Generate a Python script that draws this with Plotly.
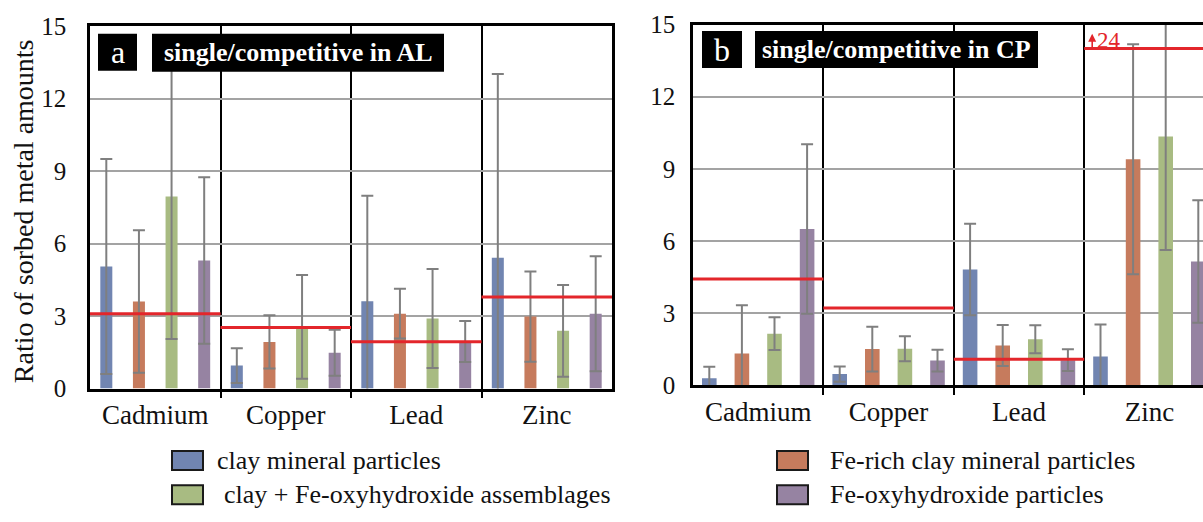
import plotly.graph_objects as go

# ---- data -----------------------------------------------------------------
categories = ["Cadmium", "Copper", "Lead", "Zinc"]
particle_types = [
    "clay mineral particles",
    "Fe-rich clay mineral particles",
    "clay + Fe-oxyhydroxide assemblages",
    "Fe-oxyhydroxide particles",
]
y_ticks = [0, 3, 6, 9, 12, 15]

# panel a: single/competitive ratios in AL
al_clay = [5.05, 0.95, 3.61, 5.42]
al_clay_err = [4.45, 0.72, 4.37, 7.6]
al_ferich = [3.6, 1.93, 3.1, 2.98]
al_ferich_err = [2.95, 1.1, 1.03, 1.87]
al_assemb = [7.95, 2.55, 2.9, 2.39]
al_assemb_err = [5.9, 2.15, 2.05, 1.9]
al_feoxy = [5.3, 1.48, 1.95, 3.1]
al_feoxy_err = [3.45, 0.95, 0.85, 2.38]
al_bulk = [3.1, 2.53, 1.94, 3.79]

# panel b: single/competitive ratios in CP
cp_clay = [0.3, 0.47, 4.82, 1.2]
cp_clay_err = [0.48, 0.32, 1.9, 1.33]
cp_ferich = [1.33, 1.51, 1.66, 9.4]
cp_ferich_err = [2.0, 0.93, 0.85, 4.78]
cp_assemb = [2.15, 1.52, 1.92, 10.35]
cp_assemb_err = [0.68, 0.52, 0.58, 4.72]
cp_feoxy = [6.5, 1.03, 1.05, 5.15]
cp_feoxy_err = [3.52, 0.45, 0.45, 2.55]
cp_bulk = [4.42, 3.22, 1.09, 24]

# ---- style ----------------------------------------------------------------
W, H = 1203, 522
FONT = "Liberation Serif"
bar_colors = ["#7185b1", "#c67b5d", "#a8bb82", "#9683a2"]
err_color = "#7f7f7f"
bulk_color = "#e3262b"
grid_color = "#a3a3a3"
OFF_SCALE = 14.0  # level at which off-scale reference lines are drawn


def px(x):
    return x / W


def py(y):
    return 1 - y / H


fig = go.Figure()

panels = [
    dict(xa="x", ya="y", bar_w=0.092,
         series=[(al_clay, al_clay_err), (al_ferich, al_ferich_err),
                 (al_assemb, al_assemb_err), (al_feoxy, al_feoxy_err)],
         bulk=al_bulk),
    dict(xa="x2", ya="y2", bar_w=0.112,
         series=[(cp_clay, cp_clay_err), (cp_ferich, cp_ferich_err),
                 (cp_assemb, cp_assemb_err), (cp_feoxy, cp_feoxy_err)],
         bulk=cp_bulk),
]

for p in panels:
    for k, (vals, errs) in enumerate(p["series"]):
        xs = [g + (k - 1.5) * 0.25 for g in range(len(categories))]
        fig.add_trace(go.Bar(
            x=xs, y=vals, width=p["bar_w"], name=particle_types[k],
            marker=dict(color=bar_colors[k], line=dict(width=0)),
            error_y=dict(type="data", array=errs, color=err_color,
                         thickness=2, width=6),
            xaxis=p["xa"], yaxis=p["ya"], showlegend=False,
        ))
    lx, ly = [], []
    for g, v in enumerate(p["bulk"]):
        yv = min(v, OFF_SCALE)
        lx += [g - 0.5, g + 0.5, None]
        ly += [yv, yv, None]
    fig.add_trace(go.Scatter(
        x=lx, y=ly, mode="lines", line=dict(color=bulk_color, width=3),
        xaxis=p["xa"], yaxis=p["ya"], showlegend=False, hoverinfo="skip",
    ))

# ---- axes -----------------------------------------------------------------
unit_b = 130.4
common_x = dict(
    tickmode="array", tickvals=list(range(len(categories))), ticktext=categories,
    ticks="", showgrid=False, zeroline=False,
    showline=True, linecolor="black", linewidth=2.5, mirror=True,
    tickfont=dict(family=FONT, size=27, color="#111"),
    minor=dict(tickmode="array", tickvals=[0.5, 1.5, 2.5], showgrid=True,
               gridcolor="black", gridwidth=1.5, ticks="outside", ticklen=7,
               tickcolor="black", tickwidth=1.5),
)
common_y = dict(
    range=[0, 15], tickmode="array", tickvals=y_ticks, ticks="",
    showgrid=True, gridcolor=grid_color, gridwidth=1.5, zeroline=False,
    showline=True, linecolor="black", linewidth=2.5,
    tickfont=dict(family=FONT, size=25, color="#111"),
)

fig.update_layout(
    width=W, height=H,
    margin=dict(l=0, r=0, t=0, b=0),
    paper_bgcolor="white", plot_bgcolor="white",
    barmode="overlay",
    xaxis=dict(common_x, domain=[px(90), px(612)], range=[-0.5, 3.5], anchor="y"),
    yaxis=dict(common_y, domain=[py(396), py(14)], anchor="x", mirror=True,
               ticklabelstandoff=16),
    xaxis2=dict(common_x, domain=[px(693), 1.0],
                range=[-0.5, -0.5 + (W - 693) / unit_b], anchor="y2"),
    yaxis2=dict(common_y, domain=[py(392.7), py(12.2)], anchor="x2", mirror=False,
                ticklabelstandoff=10),
)

# ---- panel labels ---------------------------------------------------------
shapes = []
annotations = []


def label_box(x0, x1, y0, y1, text, size, bold=False):
    shapes.append(dict(type="rect", xref="paper", yref="paper",
                       x0=px(x0), x1=px(x1), y0=py(y1), y1=py(y0),
                       fillcolor="black", line=dict(width=0), layer="above"))
    annotations.append(dict(
        xref="paper", yref="paper", x=px((x0 + x1) / 2), y=py((y0 + y1) / 2),
        text=f"<b>{text}</b>" if bold else text, showarrow=False,
        xanchor="center", yanchor="middle",
        font=dict(family=FONT, size=size, color="white")))


label_box(98, 137, 22, 61, "a", 32)
label_box(152, 444, 22, 62, "single/competitive in AL", 26, bold=True)
label_box(702, 742, 19, 58, "b", 32)
label_box(755, 1038, 19, 58, "single/competitive in CP", 26, bold=True)

# off-scale reference value in panel b
for g, v in enumerate(cp_bulk):
    if v > OFF_SCALE:
        annotations.append(dict(
            xref="x2", yref="y2", x=g - 0.5 + 11 / unit_b, y=OFF_SCALE,
            text=str(v), showarrow=False, xanchor="left", yanchor="bottom",
            yshift=-6, font=dict(family=FONT, size=23, color=bulk_color)))
        annotations.append(dict(
            xref="x2", yref="y2", x=g - 0.5 + 8 / unit_b, y=OFF_SCALE + 0.62,
            ax=0, ay=16, axref="pixel", ayref="pixel", text="",
            showarrow=True, arrowhead=2, arrowsize=1.0, arrowwidth=1.6,
            arrowcolor=bulk_color))

# y-axis title
annotations.append(dict(
    xref="paper", yref="paper", x=px(23), y=py(209),
    text="Ratio of sorbed metal amounts", textangle=-90, showarrow=False,
    xanchor="center", yanchor="middle",
    font=dict(family=FONT, size=28, color="#111")))

# ---- legend ---------------------------------------------------------------
legend_slots = [(172, 472, 215), (777, 472, 828), (172, 508, 222), (777, 508, 828)]
for k, (sx, cy, tx) in enumerate(legend_slots):
    shapes.append(dict(type="rect", xref="paper", yref="paper",
                       x0=px(sx), x1=px(sx + 31), y0=py(cy + 10), y1=py(cy - 10),
                       fillcolor=bar_colors[k], line=dict(color="#1a1a1a", width=2)))
    annotations.append(dict(
        xref="paper", yref="paper", x=px(tx), y=py(cy),
        text=particle_types[k], showarrow=False, xanchor="left", yanchor="middle",
        font=dict(family=FONT, size=26, color="#111")))

fig.update_layout(shapes=shapes, annotations=annotations)

fig.write_html("out.html")
